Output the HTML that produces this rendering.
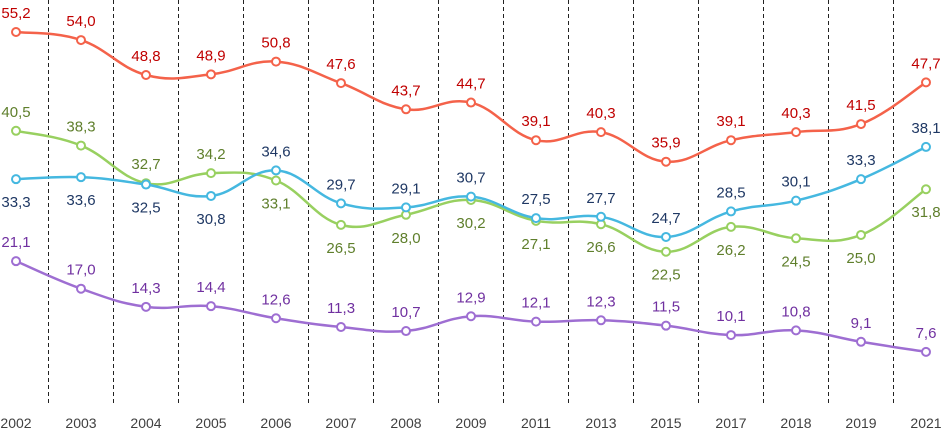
<!DOCTYPE html>
<html><head><meta charset="utf-8"><style>
body{margin:0;background:#fff}
svg{display:block;font-family:"Liberation Sans",sans-serif}
</style></head><body>
<svg id="chart" width="942" height="432" viewBox="0 0 942 432"></svg>
<script>
const categories=["2002","2003","2004","2005","2006","2007","2008","2009","2011","2013","2015","2017","2018","2019","2021"];
const redValues=[55.2,54.0,48.8,48.9,50.8,47.6,43.7,44.7,39.1,40.3,35.9,39.1,40.3,41.5,47.7];
const greenValues=[40.5,38.3,32.7,34.2,33.1,26.5,28.0,30.2,27.1,26.6,22.5,26.2,24.5,25.0,31.8];
const blueValues=[33.3,33.6,32.5,30.8,34.6,29.7,29.1,30.7,27.5,27.7,24.7,28.5,30.1,33.3,38.1];
const purpleValues=[21.1,17.0,14.3,14.4,12.6,11.3,10.7,12.9,12.1,12.3,11.5,10.1,10.8,9.1,7.6];
const greenBelow=[0,0,0,0,1,1,1,1,1,1,1,1,1,1,1];
const blueBelow=[1,1,1,1,0,0,0,0,0,0,0,0,0,0,0];
const NS="http://www.w3.org/2000/svg";
const svg=document.getElementById('chart');
function xs(i){return 16+i*65;}
function ys(v){return 32+(55.2-v)*6.72;}
function mk(t,a){const e=document.createElementNS(NS,t);for(const k in a)e.setAttribute(k,a[k]);svg.appendChild(e);return e;}
for(let i=0;i<categories.length-1;i++){
  const g=mk('line',{x1:xs(i)+32.5,x2:xs(i)+32.5,y1:0,y2:406,stroke:'#222','stroke-width':1,'stroke-dasharray':'4,3'});
  
  
}
categories.forEach((c,i)=>{
  const t=mk('text',{x:xs(i),y:428,'text-anchor':'middle','font-size':14,fill:'#404040'});
  t.textContent=c;
  
  
});
function pathFor(vals){
  const p=vals.map((v,i)=>[xs(i),ys(v)]);
  let d='M'+p[0][0]+','+p[0][1];
  for(let i=0;i<p.length-1;i++){
    const p0=p[i-1]||p[i],p1=p[i],p2=p[i+1],p3=p[i+2]||p2;
    const t=0.2;
    d+=' C'+(p1[0]+(p2[0]-p0[0])*t)+','+(p1[1]+(p2[1]-p0[1])*t)+' '+(p2[0]-(p3[0]-p1[0])*t)+','+(p2[1]-(p3[1]-p1[1])*t)+' '+p2[0]+','+p2[1];
  }
  return d;
}
function series(name,vals,line,lab,below){
  const pth=mk('path',{d:pathFor(vals),fill:'none',stroke:line,'stroke-width':2.5});
  
  
  vals.forEach((v,i)=>{
    const c=mk('circle',{cx:xs(i),cy:ys(v),r:4,fill:'#fff',stroke:line,'stroke-width':2});
    
    
    const b=below&&below[i];
    const t=mk('text',{x:xs(i),y:ys(v)+(b?28:-14),'text-anchor':'middle','font-size':15,fill:lab});
    t.textContent=v.toFixed(1).replace('.',',');
    
    
  });
}
series('red-series',redValues,'#f4624a','#c00000',null);
series('green-series',greenValues,'#98d060','#5f7f2c',greenBelow);
series('blue-series',blueValues,'#45b8e0','#1f3864',blueBelow);
series('purple-series',purpleValues,'#9e6ed2','#7030a0',null);
</script>
</body></html>
